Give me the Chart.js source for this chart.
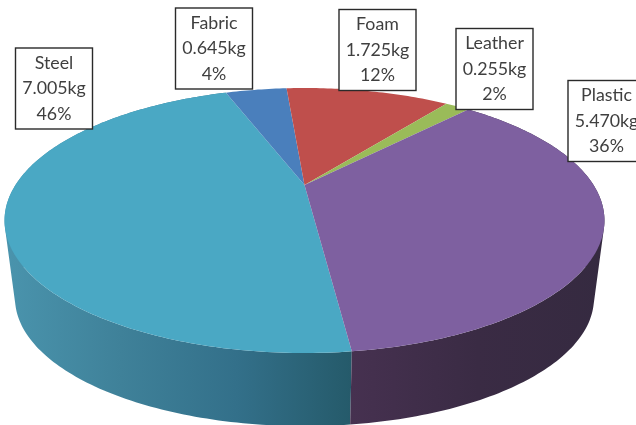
<!DOCTYPE html>
<html>
<head>
<meta charset="utf-8">
<style>html,body{margin:0;padding:0;background:#fff;overflow:hidden}canvas{display:block}</style>
<script src="https://cdn.jsdelivr.net/npm/chart.js@4"></script>
</head>
<body>
<canvas id="c" width="636" height="425"></canvas>
<script>
const categories = ['Steel', 'Fabric', 'Foam', 'Leather', 'Plastic'];
const massKg = [7.005, 0.645, 1.725, 0.255, 5.470];
const massLabels = ['7.005kg', '0.645kg', '1.725kg', '0.255kg', '5.470kg'];
const percentLabels = ['46%', '4%', '12%', '2%', '36%'];
const topColors = ['#4aa8c4', '#4a7fbc', '#bf4f4c', '#9abb59', '#7e60a0'];
const wallStops = [
  ['#4a94ad', '#3f8199', '#33708a', '#255a6a'],
  ['#3a5a80', '#3a5a80'],
  ['#823634', '#823634'],
  ['#6a803c', '#6a803c'],
  ['#463150', '#3a2b44', '#352a40']
];
const boxCentres = [[54, 88.5], [214, 48.5], [377.5, 50], [494.5, 69], [606.5, 121]];

const cx = 304.5, apexY = 185, A = 289, Q = 73.4, R = -0.268;
const boxW = 77, boxH = 81;

function project(a, low) {
  const u = Math.cos(a), v = Math.sin(a), w = 1 + R * v;
  let x = cx + A * u / w, y = (apexY + Q * v) / w;
  if (low) {
    x = cx + (x - cx) * 0.965;
    y = apexY + (y - apexY) * 0.965 + 79;
  }
  return [x, y];
}
function rim(ctx, a0, a1) {
  const n = Math.max(2, Math.ceil(Math.abs(a1 - a0) * 60));
  for (let i = 0; i <= n; i++) {
    const p = project(a0 + (a1 - a0) * i / n, false);
    ctx.lineTo(p[0], p[1]);
  }
}
function signedArea(p) {
  let s = 0;
  p.forEach((q, i) => {
    const r = p[(i + 1) % p.length];
    s += q[0] * r[1] - r[0] * q[1];
  });
  return s;
}
const pie3d = {
  id: 'pie3d',
  beforeDatasetsDraw(chart) {
    const ctx = chart.ctx, arcs = chart.getDatasetMeta(0).data;
    ctx.save();
    arcs.forEach((arc, i) => {
      const s = arc.startAngle, e = arc.endAngle;
      const xs = [];
      for (let k = 0; k <= 40; k++) {
        const a = s + (e - s) * k / 40;
        if (Math.sin(a) > -0.35) xs.push(project(a, false)[0]);
      }
      if (!xs.length) return;
      const g = ctx.createLinearGradient(Math.min(...xs), 0, Math.max(...xs), 0);
      wallStops[i].forEach((c, k, l) => g.addColorStop(k / (l.length - 1), c));
      ctx.fillStyle = g;
      const n = Math.ceil((e - s) * 60);
      ctx.beginPath();
      for (let k = 0; k < n; k++) {
        const a0 = s + (e - s) * k / n, a1 = s + (e - s) * (k + 1) / n;
        const p = [project(a0, false), project(a1, false), project(a1, true), project(a0, true)];
        if (signedArea(p) < 0) p.reverse();
        ctx.moveTo(p[0][0], p[0][1]);
        p.slice(1).forEach(q => ctx.lineTo(q[0], q[1]));
        ctx.closePath();
      }
      ctx.fill('nonzero');
    });
    arcs.forEach(arc => {
      ctx.beginPath();
      ctx.moveTo(cx, apexY);
      rim(ctx, arc.startAngle, arc.endAngle);
      ctx.closePath();
      ctx.fillStyle = arc.options.backgroundColor;
      ctx.fill();
    });
    ctx.font = '17.8px Lato';
    ctx.textAlign = 'center';
    ctx.textBaseline = 'middle';
    categories.forEach((name, i) => {
      const [bx, by] = boxCentres[i];
      ctx.fillStyle = '#fff';
      ctx.strokeStyle = '#2a2a2a';
      ctx.lineWidth = 1.4;
      ctx.fillRect(bx - boxW / 2, by - boxH / 2, boxW, boxH);
      ctx.strokeRect(bx - boxW / 2, by - boxH / 2, boxW, boxH);
      ctx.fillStyle = '#3f3f3f';
      [name, massLabels[i], percentLabels[i]].forEach((t, l) => ctx.fillText(t, bx, by + (l - 1) * 25.3));
    });
    ctx.restore();
    return false;
  }
};
new Chart(document.getElementById('c'), {
  type: 'pie',
  data: { labels: categories, datasets: [{ data: massKg, backgroundColor: topColors, borderWidth: 0 }] },
  options: {
    responsive: false,
    animation: false,
    rotation: 173.1,
    layout: { padding: 0 },
    plugins: { legend: { display: false }, tooltip: { enabled: false } }
  },
  plugins: [pie3d]
});
</script>
</body>
</html>
